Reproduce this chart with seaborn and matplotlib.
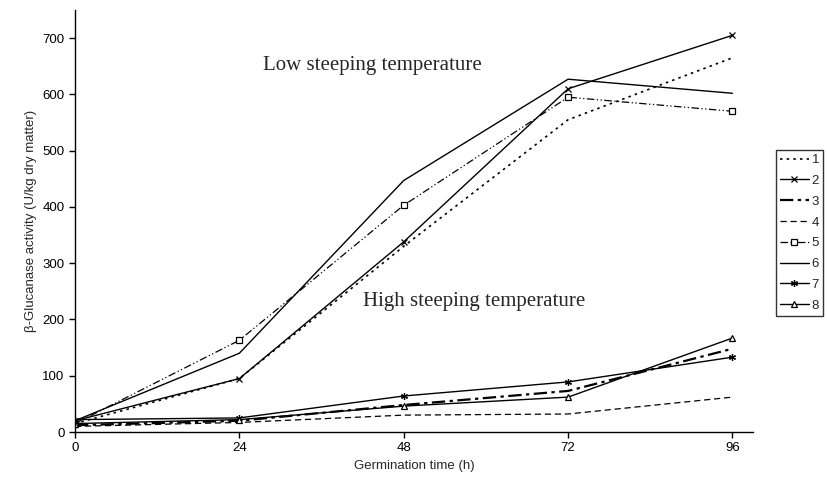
import matplotlib
matplotlib.use("Agg")
import matplotlib.pyplot as plt
import seaborn as sns
import pandas as pd

sns.set_style("white")
plt.rcParams['font.family'] = ['Liberation Sans', 'DejaVu Sans']

hours = [0, 24, 48, 72, 96]
s1 = [15, 95, 330, 555, 665]
s2 = [20, 95, 338, 610, 705]
s3 = [12, 20, 48, 73, 148]
s4 = [10, 17, 30, 32, 62]
s5 = [15, 163, 403, 595, 570]
s6 = [20, 140, 447, 627, 602]
s7 = [22, 25, 64, 89, 133]
s8 = [15, 22, 46, 62, 167]
labels = ["1", "2", "3", "4", "5", "6", "7", "8"]
series = [s1, s2, s3, s4, s5, s6, s7, s8]

styles = [
    dict(linestyle=(0, (1.5, 2.5)), marker=None, lw=1.2),
    dict(linestyle='-', marker='x', lw=1.0),
    dict(linestyle=(0, (6, 2, 1.5, 2)), marker=None, lw=1.6),
    dict(linestyle=(0, (5, 3)), marker=None, lw=0.9),
    dict(linestyle=(0, (6, 2, 1, 2, 1, 2)), marker='s', lw=0.9),
    dict(linestyle='-', marker=None, lw=1.0),
    dict(linestyle='-', marker=(6, 2, 0), lw=1.0),
    dict(linestyle='-', marker='^', lw=1.0),
]

fig = plt.figure(figsize=(8.28, 4.94), dpi=100)
ax = fig.add_axes([75/828, 1-432/494, (753-75)/828, (432-10)/494])

for lab, vals, st in zip(labels, series, styles):
    df = pd.DataFrame({"h": hours, "v": vals})
    sns.lineplot(data=df, x="h", y="v", ax=ax, color="black",
                 linestyle=st["linestyle"], linewidth=st["lw"],
                 marker=st["marker"], markersize=5,
                 markerfacecolor="white" if st["marker"] in ("s", "^") else "black",
                 markeredgecolor="black", markeredgewidth=0.9,
                 label=lab)

ax.set_xlim(0, 99)
ax.set_ylim(0, 750)
ax.set_xticks(hours)
ax.set_yticks(range(0, 701, 100))
ax.tick_params(axis='both', direction='out', length=4, width=1, labelsize=9.5,
               bottom=True, left=True, colors='black')
for s in ["top", "right"]:
    ax.spines[s].set_visible(False)
for s in ["left", "bottom"]:
    ax.spines[s].set_color("black")
    ax.spines[s].set_linewidth(1.0)

ax.set_xlabel("Germination time (h)", fontsize=9.5)
ax.set_ylabel("β-Glucanase activity (U/kg dry matter)", fontsize=9.5)

ax.text(43.4, 652, "Low steeping temperature", family=['Liberation Serif'],
        fontsize=15, ha='center', va='center')
ax.text(58.3, 232, "High steeping temperature", family=['Liberation Serif'],
        fontsize=15, ha='center', va='center')

leg = ax.legend(loc='upper left', bbox_to_anchor=(776/828, 1-150/494),
                bbox_transform=fig.transFigure, frameon=True, fancybox=False,
                edgecolor='black', fontsize=9.5, handlelength=2.2,
                handletextpad=0.2, labelspacing=0.65, borderpad=0.3,
                borderaxespad=0)
leg.get_frame().set_linewidth(1.0)

fig.savefig("out.png", dpi=100)
